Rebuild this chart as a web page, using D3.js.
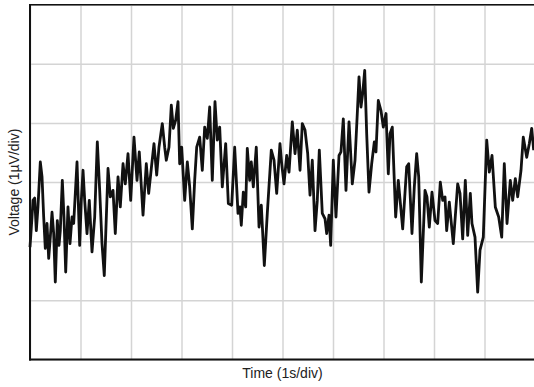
<!DOCTYPE html>
<html>
<head>
<meta charset="utf-8">
<script src="https://cdn.jsdelivr.net/npm/d3@7"></script>
<style>
  body { margin: 0; background: #fff; }
  svg { display: block; }
  text { font-family: Arial, "Liberation Sans", sans-serif; font-size: 14px; fill: #222; }
</style>
</head>
<body>
<svg></svg>
<script>
// time in seconds, voltage in µV (one division each)
const timeS = [
  0.000, 0.040, 0.059, 0.093, 0.125, 0.158, 0.204, 0.238, 0.271, 0.303,
  0.337, 0.370, 0.402, 0.436, 0.469, 0.501, 0.541, 0.574, 0.600, 0.640,
  0.673, 0.707, 0.752, 0.792, 0.832, 0.865, 0.931, 0.984, 1.016, 1.050,
  1.083, 1.129, 1.174, 1.228, 1.281, 1.333, 1.380, 1.426, 1.471, 1.545,
  1.590, 1.644, 1.689, 1.743, 1.788, 1.842, 1.887, 1.941, 1.994, 2.059,
  2.119, 2.164, 2.238, 2.303, 2.350, 2.402, 2.455, 2.509, 2.554, 2.620,
  2.667, 2.699, 2.752, 2.798, 2.838, 2.885, 2.931, 2.964, 3.004, 3.063,
  3.115, 3.162, 3.214, 3.261, 3.301, 3.360, 3.412, 3.459, 3.511, 3.558,
  3.610, 3.663, 3.709, 3.756, 3.808, 3.875, 3.927, 3.994, 4.053, 4.119,
  4.158, 4.184, 4.224, 4.271, 4.303, 4.350, 4.382, 4.422, 4.481, 4.535,
  4.580, 4.640, 4.699, 4.778, 4.832, 4.885, 4.950, 4.984, 5.030, 5.083,
  5.129, 5.194, 5.248, 5.293, 5.347, 5.392, 5.446, 5.499, 5.545, 5.590,
  5.644, 5.689, 5.729, 5.788, 5.842, 5.875, 5.921, 5.954, 6.006, 6.059,
  6.119, 6.158, 6.204, 6.257, 6.317, 6.382, 6.436, 6.481, 6.515, 6.554,
  6.588, 6.628, 6.667, 6.713, 6.766, 6.818, 6.851, 6.897, 6.950, 6.996,
  7.050, 7.095, 7.129, 7.174, 7.241, 7.293, 7.380, 7.459, 7.499, 7.564,
  7.610, 7.657, 7.697, 7.749, 7.822, 7.861, 7.907, 7.960, 8.020, 8.073,
  8.125, 8.172, 8.218, 8.251, 8.303, 8.382, 8.469, 8.515, 8.568, 8.620,
  8.667, 8.719, 8.752, 8.812, 8.865, 8.911, 8.976, 9.044, 9.095, 9.149,
  9.214, 9.281, 9.341, 9.392, 9.446, 9.511, 9.558, 9.610, 9.657, 9.723,
  9.768, 9.836, 9.887, 9.935, 9.974
];
const voltageUV = [
  -1.10, -0.59, -0.31, -0.27, -0.82, -0.42, 0.34, 0.09, -0.59, -1.12,
  -0.70, -1.29, -0.93, -0.51, -0.87, -1.69, -0.65, -1.07, -0.82, 0.03,
  -0.59, -1.52, -0.42, -1.04, -0.59, -0.70, 0.34, -1.07, -0.31, 0.20,
  -0.31, -0.87, -0.31, -1.18, -0.59, 0.68, -0.14, -1.04, -1.58, 0.23,
  -0.25, -0.14, -0.87, 0.09, -0.42, 0.31, -0.03, 0.48, -0.31, 0.76,
  0.03, 0.51, -0.56, 0.31, -0.19, 0.23, 0.65, 0.12, 0.59, 0.99,
  0.59, 0.37, 0.59, 1.30, 0.91, 1.05, 1.36, 0.31, 0.59, -0.31,
  0.34, -0.08, -0.79, 0.03, 0.59, 0.76, 0.20, 0.93, 0.74, 1.27,
  0.03, 1.36, 0.71, 0.93, -0.08, 0.65, -0.36, -0.39, 0.59, -0.53,
  -0.42, -0.73, -0.17, -0.42, 0.57, 0.03, 0.34, -0.08, 0.59, -0.76,
  -0.39, -1.41, -0.53, 0.54, 0.37, -0.19, 0.65, 0.31, -0.03, 0.45,
  0.17, 1.02, 0.48, 0.88, 0.20, 0.99, 0.88, 0.48, -0.22, 0.37,
  -0.82, -0.31, 0.54, -0.53, -0.62, -0.87, -0.56, -1.07, 0.37, -0.59,
  0.45, 0.51, 1.07, -0.14, 1.02, -0.03, 0.37, 1.16, 1.78, 1.27,
  1.50, 1.89, 0.82, -0.17, 0.31, 0.68, 0.51, 1.38, 1.21, 0.93,
  1.16, 0.14, 0.82, 0.93, -0.59, 0.03, -0.79, 0.26, 0.31, -0.87,
  -0.08, 0.48, 0.09, -1.69, -0.14, -0.25, -0.76, -0.17, -0.65, -0.70,
  0.00, -0.31, -0.25, -0.82, -0.34, -1.04, -0.03, -0.19, -0.96, 0.03,
  -0.90, -0.19, -0.70, -0.93, -1.86, -1.15, -0.93, 0.71, 0.17, 0.45,
  -0.42, -0.59, -0.93, 0.31, -0.70, 0.03, -0.31, 0.06, -0.25, 0.20,
  0.76, 0.42, 0.65, 0.91, 0.54
];
const timeDivs = d3.range(0, 11);
const voltDivs = d3.range(-3, 4);

const width = 534,
      height = 387,
      plotLeft = 30,
      plotRight = 535,
      plotTop = 4.7,
      plotBottom = 359.5,
      data = timeS.map((t, i) => ({ t: t, v: voltageUV[i] })),
      xScale = d3.scaleLinear().domain([0, 10]).range([plotLeft, plotRight]),
      yScale = d3.scaleLinear().domain([-3, 3]).range([plotBottom, plotTop]);

const svg = d3.select('svg')
    .attr('width', width)
    .attr('height', height);

// grid
svg.append('g')
    .attr('transform', `translate(0, ${plotBottom})`)
    .call(d3.axisBottom(xScale).tickValues(timeDivs)
            .tickSize(-(plotBottom - plotTop)).tickSizeOuter(0).tickFormat(''))
    .call((g) => g.select('.domain').remove())
    .call((g) => g.selectAll('line').attr('stroke', '#d4d4d4').attr('stroke-width', 1.5));

svg.append('g')
    .attr('transform', `translate(${plotLeft}, 0)`)
    .call(d3.axisLeft(yScale).tickValues(voltDivs)
            .tickSize(-(plotRight - plotLeft)).tickSizeOuter(0).tickFormat(''))
    .call((g) => g.select('.domain').remove())
    .call((g) => g.selectAll('line').attr('stroke', '#d4d4d4').attr('stroke-width', 1.5));

// frame
svg.append('line')
    .attr('x1', plotLeft).attr('x2', plotRight)
    .attr('y1', plotTop).attr('y2', plotTop)
    .attr('stroke', '#111').attr('stroke-width', 1.6);
svg.append('line')
    .attr('x1', plotLeft).attr('x2', plotLeft)
    .attr('y1', plotTop - 0.8).attr('y2', plotBottom + 1)
    .attr('stroke', '#111').attr('stroke-width', 2);
svg.append('line')
    .attr('x1', plotLeft - 1).attr('x2', plotRight)
    .attr('y1', plotBottom).attr('y2', plotBottom)
    .attr('stroke', '#111').attr('stroke-width', 2);

// trace
svg.append('path')
    .datum(data)
    .attr('fill', 'none')
    .attr('stroke', '#111')
    .attr('stroke-width', 2.8)
    .attr('stroke-linejoin', 'round')
    .attr('d', d3.line().x((d) => xScale(d.t)).y((d) => yScale(d.v)));

// labels
svg.append('text')
    .text('Time (1s/div)')
    .attr('x', (plotLeft + plotRight) / 2)
    .attr('y', 378)
    .style('text-anchor', 'middle');

svg.append('text')
    .text('Voltage (1µV/div)')
    .attr('transform', 'rotate(-90)')
    .attr('x', -(plotTop + plotBottom) / 2)
    .attr('y', 19)
    .style('text-anchor', 'middle');
</script>
</body>
</html>
